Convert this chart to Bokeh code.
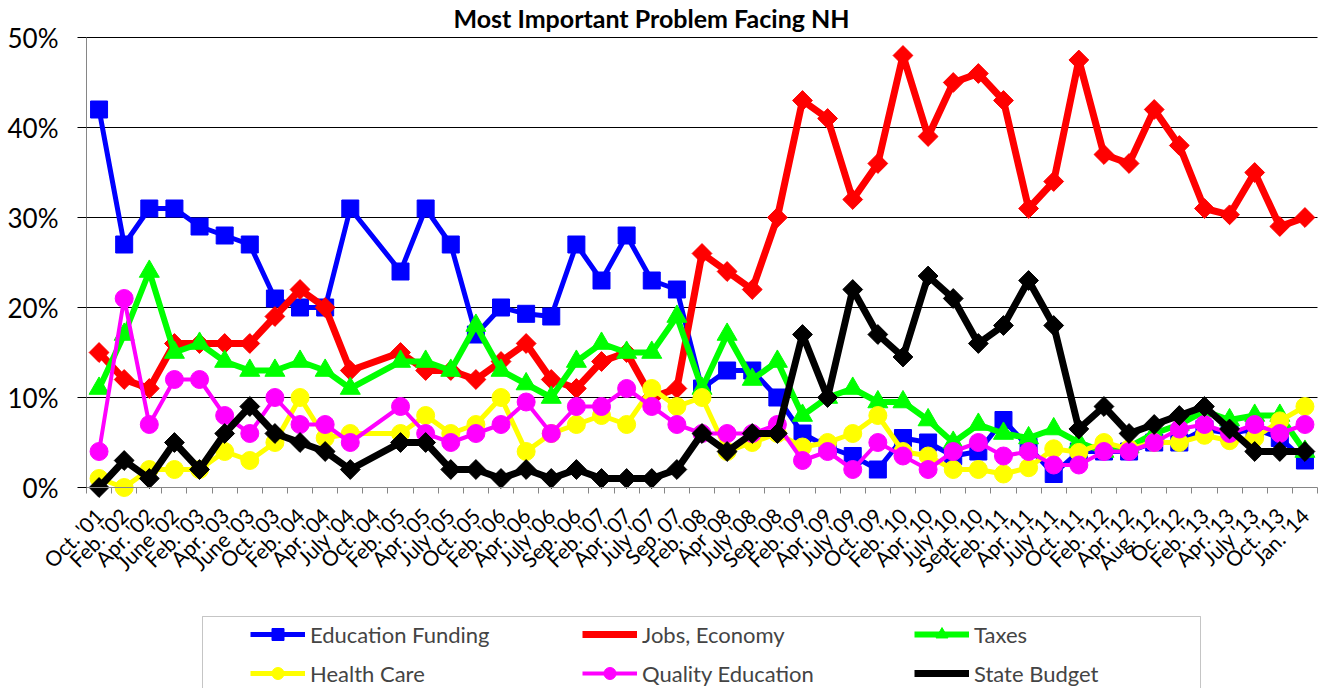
import math
from bokeh.plotting import figure
from bokeh.models import (FixedTicker, PrintfTickFormatter, Legend, LegendItem,
                          ColumnDataSource, Range1d, BoxAnnotation, Label)
from bokeh.embed import file_html
from bokeh.resources import INLINE

labels = ["Oct. '01", "Feb. '02", "Apr. '02", "June '02", "Feb. '03", "Apr. '03", "June '03",
          "Oct. '03", "Feb. '04", "Apr. '04", "July '04", "Oct. '04", "Feb. '05", "Apr. '05",
          "July '05", "Oct. '05", "Feb. '06", "Apr. '06", "July '06", "Sep. '06", "Feb. '07",
          "Apr. '07", "July '07", "Sep. 07", "Feb. '08", "Apr '08", "July '08", "Sep. '08",
          "Feb. '09", "Apr. '09", "July '09", "Oct. '09", "Feb. '10", "Apr. '10", "July '10",
          "Sept. '10", "Feb. '11", "Apr. '11", "July '11", "Oct. '11", "Feb. '12", "Apr. '12",
          "Aug. '12", "Oc. '12", "Feb. '13", "Apr. '13", "July '13", "Oct. '13", "Jan. '14"]

education_funding = [42, 27, 31, 31, 29, 28, 27, 21, 20, 20, 31, None, 24, 31, 27, 17, 20, 19.3,
                     19, 27, 23, 28, 23, 22, 11, 13, 13, 10, 6, 4.5, 3.5, 2, 5.5, 5, 3.5, 4,
                     7.5, 4.5, 1.5, 4, 4, 4, 5, 5, 6.5, 6, 6.5, 5.5, 3]
jobs_economy = [15, 12, 11, 16, 16, 16, 16, 19, 22, 20, 13, None, 15, 13, 13, 12, 14, 16, 12, 11,
                14, 15, 10, 11, 26, 24, 22, 30, 43, 41, 32, 36, 48, 39, 45, 46, 43, 31, 34, 47.5,
                37, 36, 42, 38, 31, 30.3, 35, 29, 30]
taxes = [11, 17, 24, 15, 16, 14, 13, 13, 14, 13, 11, None, 14, 14, 13, 18, 13, 11.5, 10, 14, 16,
         15, 15, 19, 11, 17, 12, 14, 8, 10, 11, 9.5, 9.5, 7.5, 5, 7, 6, 5.5, 6.5, 5, 4, 4.5, 6,
         7, 8.5, 7.5, 8, 8, 4]
health_care = [1, 0, 2, 2, 2, 4, 3, 5, 10, 5.5, 6, None, 6, 8, 6, 7, 10, 4, 6, 7, 8, 7, 11, 9, 10,
               4, 5, 6, 4.5, 5, 6, 8, 4, 3.5, 2, 2, 1.5, 2.2, 4.3, 3.9, 5, 4.3, 5, 5, 5.8, 5.2,
               5.5, 7.4, 9]
quality_education = [4, 21, 7, 12, 12, 8, 6, 10, 7, 7, 5, None, 9, 6, 5, 6, 7, 9.5, 6, 9, 9, 11, 9,
                     7, 6, 6, 6, 7, 3, 4, 2, 5, 3.5, 2, 4, 5, 3.5, 4, 2.5, 2.5, 4, 4, 5, 6.5, 7,
                     6, 7, 6, 7]
state_budget = [0, 3, 1, 5, 2, 6, 9, 6, 5, 4, 2, None, 5, 5, 2, 2, 1, 2, 1, 2, 1, 1, 1, 2, 6, 4, 6,
                6, 17, 10, 22, 17, 14.5, 23.5, 21, 16, 18, 23, 18, 6.5, 9, 6, 7, 8, 9, 6.5, 4, 4, 4]

y_ticks = [0, 10, 20, 30, 40, 50]
title_text = "Most Important Problem Facing NH"

# name, values, colour, chart marker, size, line width, angle, legend marker
series = [
    ("Education Funding", education_funding, "#0000FF", "square", 17, 5, 0, "square"),
    ("Jobs, Economy", jobs_economy, "#FF0000", "square", 14, 7, math.pi / 4, "diamond"),
    ("Taxes", taxes, "#00FF00", "triangle", 20, 6, 0, "triangle"),
    ("Health Care", health_care, "#FFFF00", "circle", 18, 5, 0, "circle"),
    ("Quality Education", quality_education, "#FF00FF", "circle", 18, 4, 0, "circle"),
    ("State Budget", state_budget, "#000000", "square", 14, 7, math.pi / 4, "diamond"),
]

# ---- layout constants (pixels) ----
W, H = 1322, 688
PLOT_L, PLOT_R, PLOT_T, PLOT_B = 86, 1317, 37, 487   # area of the 0..50 % chart
n = len(labels)
x_lo, x_hi = -0.5, n - 0.5
ppx = (PLOT_R - PLOT_L) / (x_hi - x_lo)
ppy = (PLOT_B - PLOT_T) / (y_ticks[-1] - y_ticks[0])
x_start = x_lo - PLOT_L / ppx
x_end = x_hi + (W - PLOT_R) / ppx
y_start = y_ticks[0] - (H - PLOT_B) / ppy
y_end = y_ticks[-1] + PLOT_T / ppy

p = figure(width=W, height=H, output_backend="svg", toolbar_location=None,
           x_range=Range1d(x_start, x_end), y_range=Range1d(y_start, y_end),
           min_border_left=0, min_border_right=0, min_border_top=0, min_border_bottom=0)
p.outline_line_color = None
p.xgrid.grid_line_color = None
p.ygrid.grid_line_color = None

p.add_layout(Label(x=651, y=17, x_units="canvas", y_units="canvas", text=title_text,
                   text_align="center", text_baseline="alphabetic", text_font="Lato",
                   text_font_size="25px", text_font_style="bold", text_color="black"))

# horizontal gridlines over the category span
grid_y = [t for t in y_ticks if t > y_ticks[0]]
p.segment(x0=[x_lo] * len(grid_y), x1=[x_hi] * len(grid_y), y0=grid_y, y1=grid_y,
          line_color="black", line_width=1)

items = []
for name, vals, color, marker, size, lw, ang, leg_marker in series:
    xs = [i for i, v in enumerate(vals) if v is not None]
    ys = [v for v in vals if v is not None]
    src = ColumnDataSource(dict(x=xs, y=ys))
    ln = p.line("x", "y", source=src, line_color=color, line_width=lw, line_join="round")
    sc = p.scatter("x", "y", source=src, marker=marker, size=size, angle=ang,
                   fill_color=color, line_color=color)
    if leg_marker != marker:
        # legend-only marker (the legend does not rotate markers)
        empty = ColumnDataSource(dict(x=[], y=[]))
        lg = p.scatter("x", "y", source=empty, marker=leg_marker, size=size,
                       fill_color=color, line_color=color)
        items.append(LegendItem(label=name, renderers=[ln, lg]))
    else:
        items.append(LegendItem(label=name, renderers=[ln, sc]))

xt = FixedTicker(ticks=list(range(n)), minor_ticks=[i - 0.5 for i in range(n + 1)])
p.xaxis.fixed_location = 0
p.xaxis.bounds = (x_lo, x_hi)
p.xaxis.ticker = xt
p.xaxis.major_label_overrides = {i: lab for i, lab in enumerate(labels)}
p.xaxis.major_label_orientation = math.pi / 4
p.xaxis.major_tick_line_color = None
p.xaxis.major_tick_out = 0
p.xaxis.minor_tick_line_color = "#868686"
p.xaxis.minor_tick_out = 6
p.xaxis.minor_tick_in = 0
p.xaxis.axis_line_color = "#868686"
p.xaxis.major_label_text_font = "Lato"
p.xaxis.major_label_text_font_size = "21px"
p.xaxis.major_label_text_color = "black"
p.xaxis.major_label_standoff = 18

yt = FixedTicker(ticks=y_ticks)
p.yaxis.fixed_location = x_lo
p.yaxis.bounds = (y_ticks[0], y_ticks[-1])
p.yaxis.ticker = yt
p.yaxis.formatter = PrintfTickFormatter(format="%d%%")
p.yaxis.axis_line_color = "#868686"
p.yaxis.major_tick_out = 9
p.yaxis.major_tick_in = 0
p.yaxis.major_tick_line_color = "black"
p.yaxis.minor_tick_line_color = None
p.yaxis.major_label_text_font = "Lato"
p.yaxis.major_label_text_font_size = "26px"
p.yaxis.major_label_text_color = "black"
p.yaxis.major_label_standoff = 19

box = BoxAnnotation(left=202, right=1200, top=616, bottom=720,
                    left_units="canvas", right_units="canvas",
                    top_units="canvas", bottom_units="canvas",
                    fill_color="white", fill_alpha=1.0, line_color="#404040", line_width=1)
p.add_layout(box)

legend = Legend(items=items, location=(250, 0), orientation="horizontal", ncols=3,
                glyph_width=55, glyph_height=30, label_height=30, label_standoff=5,
                spacing=9, padding=0, margin=0, label_width=263,
                label_text_font="Lato", label_text_font_size="22px",
                border_line_color=None, background_fill_alpha=0)
p.add_layout(legend)

open("out.html", "w").write(file_html(p, INLINE))
